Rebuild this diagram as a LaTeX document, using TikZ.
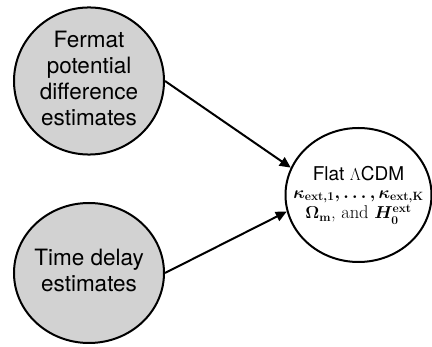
\documentclass[tikz,border=0pt]{standalone}
\usepackage{fontspec}
\usepackage{amsmath}
\setsansfont{TeX Gyre Heros}
\usetikzlibrary{arrows.meta,shapes.geometric}

\definecolor{obsfill}{RGB}{210,210,210}

\tikzset{
  obsnode/.style={ellipse, draw=black, line width=2pt, fill=obsfill,
    inner sep=0pt},
  latnode/.style={ellipse, draw=black, line width=2pt, fill=white,
    inner sep=0pt},
  link/.style={line width=2pt, -{Triangle[length=11pt,width=10pt]}}
}
% zero-width centred block so the ellipse size is set by its options only
\newcommand{\ctrblock}[1]{\makebox[0pt][c]{\begin{tabular}{@{}c@{}}#1\end{tabular}}}

\begin{document}
\begin{tikzpicture}[x=1pt,y=-1pt]
  \useasboundingbox (0,0) rectangle (432,347);

  % observed quantities
  \node[obsnode, minimum width=150pt, minimum height=146pt] (fermat) at (89,81)
    {\sffamily\fontsize{22.5}{26}\selectfont
     \ctrblock{Fermat\\potential\\difference\\estimates}};
  \node[obsnode, minimum width=150pt, minimum height=140pt] (delay) at (89,273)
    {\sffamily\fontsize{22.5}{26}\selectfont
     \ctrblock{Time delay\\estimates}};

  % inferred cosmological parameters
  \node[latnode, minimum width=146pt, minimum height=134pt] (model) at (358.5,195)
    {\ctrblock{{\sffamily\fontsize{19}{22}\selectfont Flat $\Lambda$CDM}\\[6pt]
     {\fontsize{18.5}{22}\selectfont
      \boldmath$\kappa_{\mathbf{ext},\mathbf{1}},\ldots,\kappa_{\mathbf{ext},\mathbf{K}}$}\\[3pt]
     {\fontsize{18.5}{22}\selectfont
      {\boldmath$\Omega_{\mathbf{m}}$}, and {\boldmath$H_{\mathbf{0}}^{\mathbf{ext}}$}}}};

  % dependencies
  \draw[link] (fermat.east) -- (model.158);
  \draw[link] (delay.east) -- (model.193);
\end{tikzpicture}
\end{document}
